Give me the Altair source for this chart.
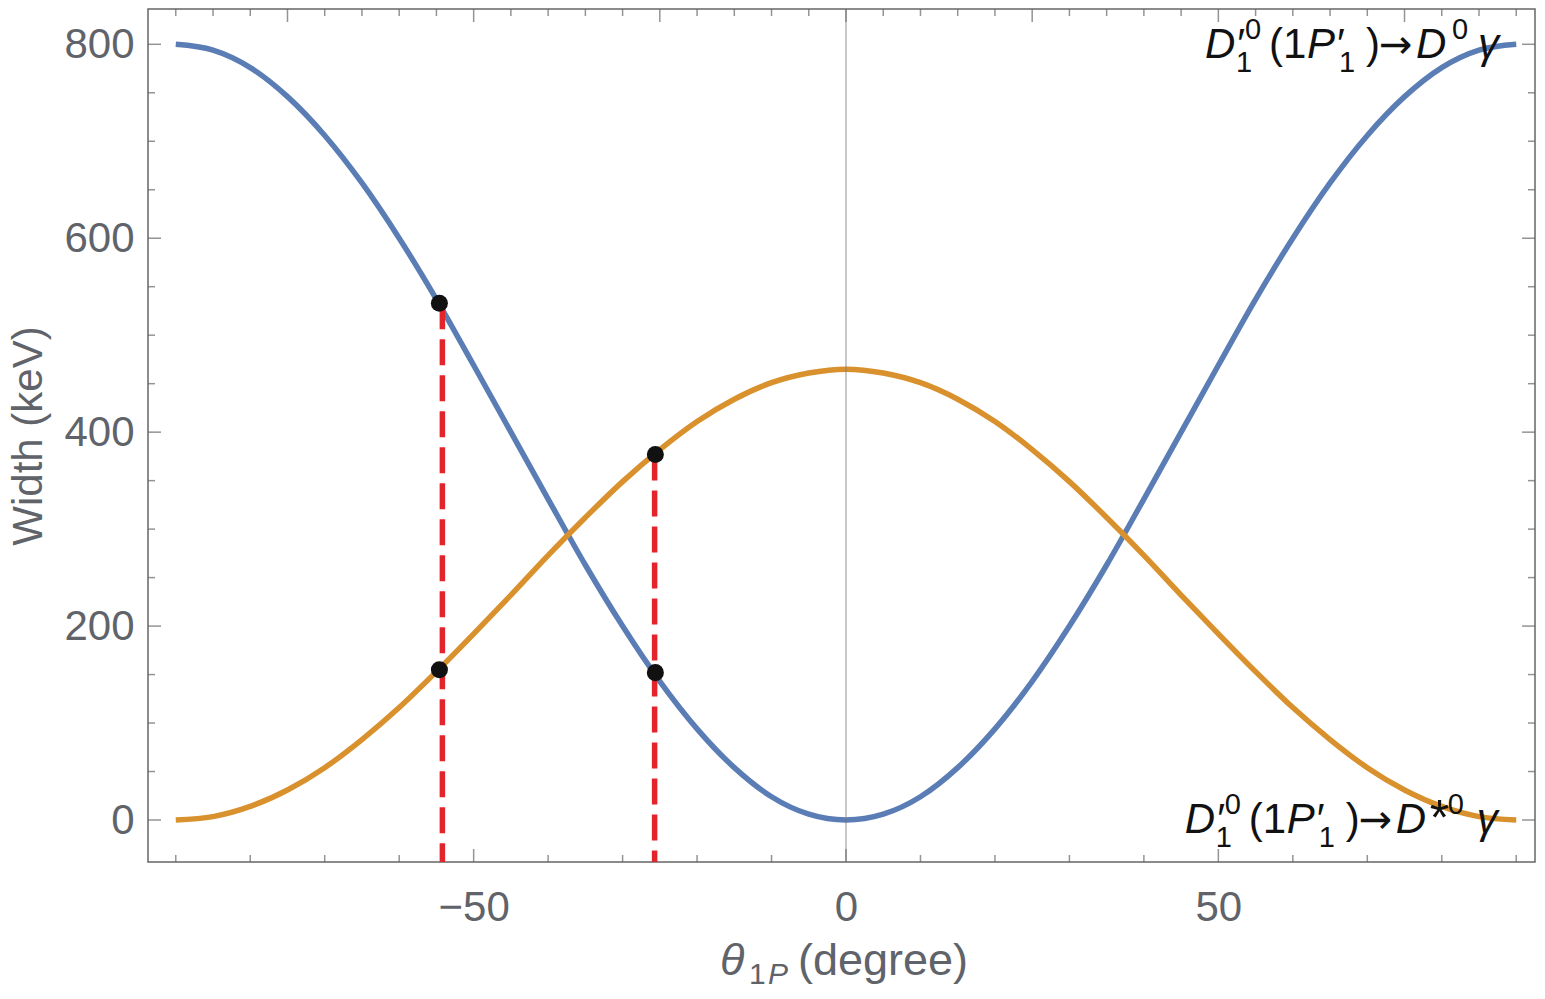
import altair as alt
import pandas as pd

# ---- data ----
theta = [-90, -85, -80, -75, -70, -65, -60, -55, -50, -45, -40, -35, -30, -25, -20, -15, -10, -5, 0,
         5, 10, 15, 20, 25, 30, 35, 40, 45, 50, 55, 60, 65, 70, 75, 80, 85, 90]
width_to_D0 = [800, 794, 776, 746, 706, 657, 600, 537, 469, 400, 331, 263, 200, 143, 94, 54, 24, 6, 0,
               6, 24, 54, 94, 143, 200, 263, 331, 400, 469, 537, 600, 657, 706, 746, 776, 794, 800]
width_to_Dstar0 = [0, 3.5, 14, 31, 54, 83, 116, 153, 192, 232, 273, 312, 349, 382, 411, 434, 451, 461, 465,
                   461, 451, 434, 411, 382, 349, 312, 273, 232, 192, 153, 116, 83, 54, 31, 14, 3.5, 0]

point_theta = [-54.6, -54.6, -25.6, -25.6]
point_width = [533, 155, 377, 152]

drop_theta = [-54.2, -25.7]
drop_top = [533, 377]
drop_bottom = [-43.3, -43.3]

# curve labels: left edge / baseline of each label in data units
label_theta = [48.2, 45.5]
label_width = [785.9, -13.4]

x_major_bottom = [-50, 0, 50]
x_minor_bottom = [-90, -80, -70, -60, -40, -30, -20, -10, 10, 20, 30, 40, 60, 70, 80, 90]
x_major_top = [-75, -50, -25, 0, 25, 50, 75]
x_minor_top = [v for v in range(-90, 95, 5) if v % 25 != 0]
y_major = [0, 200, 400, 600, 800]
y_minor = [50, 100, 150, 250, 300, 350, 450, 500, 550, 650, 700, 750]

# ---- layout / style ----
W, H = 1387, 853
X_DOMAIN = [-93.73, 92.52]
Y_DOMAIN = [-43.3, 836.4]
FONT = "Liberation Sans"
GRAY = "#666666"
LABEL_GRAY = "#606369"
BLUE = "#5B7DB5"
ORANGE = "#D9912D"

xs = alt.Scale(domain=X_DOMAIN, nice=False, zero=False)
ys = alt.Scale(domain=Y_DOMAIN, nice=False, zero=False)

x_axis = alt.Axis(values=x_major_bottom, tickSize=0, domain=False, grid=False,
                  labelFontSize=42, labelFont=FONT, labelColor=LABEL_GRAY,
                  labelPadding=25, title=None)
y_axis = alt.Axis(values=y_major, tickSize=0, domain=False, grid=False,
                  labelFontSize=42, labelFont=FONT, labelColor=LABEL_GRAY,
                  labelPadding=14, title="Width (keV)", titleFontSize=42,
                  titleFont=FONT, titleColor=LABEL_GRAY, titleFontWeight="normal",
                  titlePadding=13)


def X(field):
    return alt.X(field, scale=xs, axis=x_axis)


def Y(field):
    return alt.Y(field, scale=ys, axis=y_axis)


curves = pd.DataFrame({
    "theta": theta * 2,
    "width": width_to_D0 + width_to_Dstar0,
    "series": ["D0"] * len(theta) + ["Dstar0"] * len(theta),
})

curve_layer = alt.Chart(curves).mark_line(strokeWidth=5.5, interpolate="monotone", clip=True).encode(
    x=X("theta:Q"),
    y=Y("width:Q"),
    color=alt.Color("series:N", scale=alt.Scale(domain=["D0", "Dstar0"], range=[BLUE, ORANGE]), legend=None),
    detail="series:N",
)

zero_line = alt.Chart(pd.DataFrame({"x": [0]})).mark_rule(color="#777777", strokeWidth=0.8).encode(
    x=X("x:Q")
)

drops = pd.DataFrame({"theta": drop_theta, "top": drop_top, "bottom": drop_bottom})
drop_layer = alt.Chart(drops).mark_rule(color="#E3242B", strokeWidth=5.5, strokeDash=[26, 10]).encode(
    x=X("theta:Q"),
    y=Y("top:Q"),
    y2="bottom:Q",
)

points = pd.DataFrame({"theta": point_theta, "width": point_width})
point_layer = alt.Chart(points).mark_circle(size=290, color="#111111", opacity=1).encode(
    x=X("theta:Q"),
    y=Y("width:Q"),
)


def xticks(vals, length, top):
    df = pd.DataFrame({"v": vals})
    yc = length / 2 if top else H - length / 2
    return alt.Chart(df).mark_tick(orient="vertical", size=length, thickness=1.5, color=GRAY).encode(
        x=X("v:Q"), y=alt.value(yc)
    )


def yticks(vals, length, right):
    df = pd.DataFrame({"v": vals})
    xc = W - length / 2 if right else length / 2
    return alt.Chart(df).mark_tick(orient="horizontal", size=length, thickness=1.5, color=GRAY).encode(
        y=Y("v:Q"), x=alt.value(xc)
    )


tick_layers = [
    xticks(x_major_bottom, 13, False), xticks(x_minor_bottom, 7, False),
    xticks(x_major_top, 13, True), xticks(x_minor_top, 7, True),
    yticks(y_major, 13, False), yticks(y_minor, 7, False),
    yticks(y_major, 13, True), yticks(y_minor, 7, True),
]

# curve labels  D'_1^0(1P'_1) -> D^0 gamma  and  D'_1^0(1P'_1) -> D^{*0} gamma,
# typeset piece by piece (text, dx, dy, size, style, font)
common_pieces = [
    ("D′", 0, 0, 42, "italic", FONT),
    ("0", 40, -19, 29, "normal", FONT),
    ("1", 31, 14, 29, "normal", FONT),
    ("(", 64, 0, 42, "normal", FONT),
    ("1", 78, 0, 42, "normal", FONT),
    ("P′", 102, 0, 42, "italic", FONT),
    ("1", 134, 14, 29, "normal", FONT),
    (")", 161, 0, 42, "normal", FONT),
    ("→", 174, 0, 40, "normal", "DejaVu Sans"),
    ("D", 211, 0, 42, "italic", FONT),
]
top_pieces = common_pieces + [
    ("0", 247, -19, 29, "normal", FONT),
    ("γ", 273, 0, 42, "italic", FONT),
]
bottom_pieces = common_pieces + [
    ("*", 245, 2, 50, "normal", FONT),
    ("0", 263, -19, 29, "normal", FONT),
    ("γ", 292, 0, 42, "italic", FONT),
]

label_layers = []
for i, pieces in enumerate([top_pieces, bottom_pieces]):
    anchor = pd.DataFrame({"theta": [label_theta[i]], "width": [label_width[i]]})
    for txt, dx, dy, fs, st, fnt in pieces:
        label_layers.append(
            alt.Chart(anchor).mark_text(
                align="left", baseline="alphabetic", fontSize=fs, font=fnt, fontStyle=st,
                color="#111111", dx=dx, dy=dy, text=txt
            ).encode(x=X("theta:Q"), y=Y("width:Q"))
        )

# x-axis title built from pieces (theta with subscript "1 P")
title_parts = [
    ("θ", 572, 966, 45, "italic"),
    ("1", 601, 975, 30, "normal"),
    ("P", 620, 975, 30, "italic"),
    ("(degree)", 650, 966, 45, "normal"),
]
title_layers = []
for txt, px, py, fs, st in title_parts:
    title_layers.append(
        alt.Chart(pd.DataFrame({"t": [txt]})).mark_text(
            align="left", baseline="alphabetic", fontSize=fs, font=FONT, fontStyle=st,
            color=LABEL_GRAY, x=px, y=py
        ).encode(text="t:N")
    )

chart = alt.layer(
    curve_layer, zero_line, *tick_layers, drop_layer, point_layer, *label_layers, *title_layers
).properties(
    width=W, height=H,
    autosize=alt.AutoSizeParams(type="none"),
    padding={"left": 140, "top": 1, "right": 2, "bottom": 128},
    background="white",
).configure_view(stroke=GRAY, strokeWidth=1.5)

chart.save("out.html", embed_options={"renderer": "svg", "actions": False})
